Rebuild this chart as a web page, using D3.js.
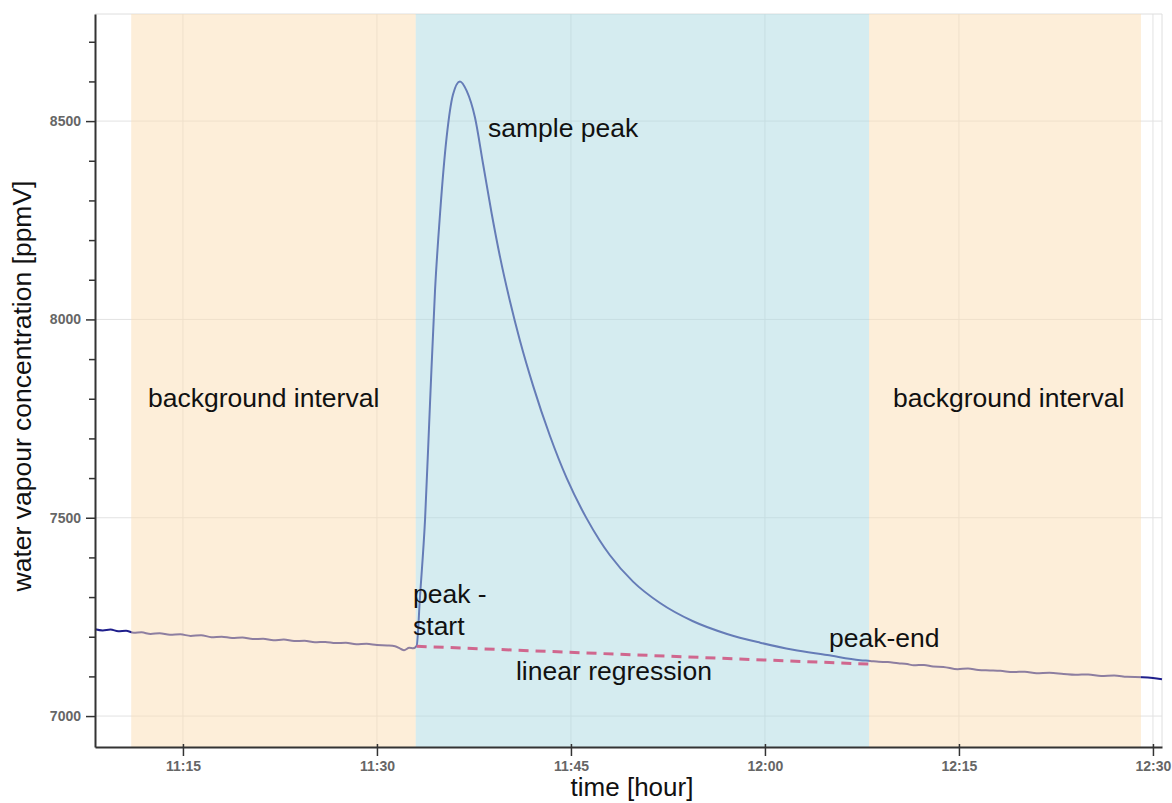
<!DOCTYPE html>
<html>
<head>
<meta charset="utf-8">
<script src="https://cdn.jsdelivr.net/npm/d3@7"></script>
<style>
  body { margin: 0; background: #fff; }
  svg { display: block; font-family: "Liberation Sans", Arial, sans-serif; }
</style>
</head>
<body>
<div id="chart"></div>
<script>
// minutes after 11:00 and water vapour concentration (ppmV)
const sampleMinutes = [
  8.2, 8.8, 9.4, 10.0, 10.6, 11.2, 11.8, 12.5, 13.2, 14.0, 14.8, 15.6, 16.4, 17.2, 18.0,
  18.8, 19.6, 20.4, 21.2, 22.0, 22.8, 23.6, 24.4, 25.2, 26.0, 26.8, 27.6, 28.4, 29.2, 30.0,
  30.8, 31.4, 31.8, 32.1, 32.5, 32.8, 33.07,
  33.33, 33.72, 34.10, 34.49, 34.88, 35.39, 35.88, 36.42, 36.94, 37.58, 38.20, 38.87, 39.52,
  40.29, 41.06, 42.07, 43.38, 44.68, 46.2, 47.2, 48.0, 49.8, 51.89, 54.44, 57.07, 59.63,
  62.18, 64.81, 67.36,
  68.13, 68.8, 69.5, 70.3, 71.0, 71.5, 72.3, 73.0, 73.8, 74.9, 75.7, 76.5, 77.4, 78.2,
  79.2, 80.1, 81.0, 82.0, 83.1, 84.0, 85.0, 86.0, 87.0, 88.0, 89.2, 90.0, 90.7
];
const sampleValues = [
  7219, 7216, 7218, 7214, 7215, 7210, 7211, 7207, 7209, 7205, 7206, 7202, 7204, 7199, 7200,
  7197, 7198, 7194, 7195, 7191, 7193, 7189, 7190, 7186, 7187, 7184, 7185, 7181, 7182, 7179,
  7178, 7176, 7170, 7166, 7172, 7171, 7177,
  7302, 7496, 7786, 8073, 8267, 8460, 8567, 8600, 8576, 8509, 8393, 8267, 8157,
  8045, 7946, 7833, 7706, 7599, 7499, 7444, 7406, 7339, 7285, 7239, 7207, 7185,
  7167, 7154, 7141,
  7139, 7137, 7136, 7133, 7131, 7128, 7129, 7125, 7124, 7118, 7120, 7116, 7115, 7114,
  7111, 7112, 7108, 7109, 7106, 7104, 7105, 7101, 7102, 7099, 7098, 7096, 7093
];

// regression line between peak start and peak end
const regressionMinutes = [33.07, 68.05];
const regressionValues = [7176, 7131];

// shaded intervals [start, end] in minutes after 11:00
const intervalNames = ["background", "peak", "background"];
const intervalStarts = [11.0, 33.0, 68.05];
const intervalEnds = [33.0, 68.05, 89.07];

const xTickLabels = ["11:15", "11:30", "11:45", "12:00", "12:15", "12:30"];
const yDomain = [6922, 8770];
const xDomainMinutes = [8.2, 90.7];

const annotations = [
  { text: "background interval", m: 12.30, v: 7779 },
  { text: "background interval", m: 69.90, v: 7779 },
  { text: "sample peak", m: 38.59, v: 8460 },
  { text: "peak -", m: 32.79, v: 7285 },
  { text: "start", m: 32.79, v: 7204 },
  { text: "linear regression", m: 40.75, v: 7091 },
  { text: "peak-end", m: 64.95, v: 7174 }
];

const width = 1172, height = 803;
const margin = { top: 14, right: 10, bottom: 56, left: 95 };

const t = m => new Date(2020, 0, 1, 11, 0, 0, Math.round(m * 60000));

const svg = d3.select('#chart').append('svg')
  .attr('width', width)
  .attr('height', height);

const x = d3.scaleTime()
  .domain(xDomainMinutes.map(t))
  .range([margin.left, width - margin.right]);

const y = d3.scaleLinear()
  .domain(yDomain)
  .range([height - margin.bottom, margin.top]);

const xTicks = xTickLabels.map(s => {
  const [h, mm] = s.split(':').map(Number);
  return t((h - 11) * 60 + mm);
});
const yMajor = d3.range(7000, 8501, 500);
const yMinor = d3.range(7000, 8701, 100);

// grid
svg.append('g').selectAll('line.v')
  .data(xTicks).join('line')
  .attr('x1', d => x(d)).attr('x2', d => x(d))
  .attr('y1', margin.top).attr('y2', height - margin.bottom)
  .attr('stroke', '#e2e2e2');
svg.append('g').selectAll('line.h')
  .data(yMajor).join('line')
  .attr('x1', margin.left).attr('x2', width - margin.right)
  .attr('y1', d => y(d)).attr('y2', d => y(d))
  .attr('stroke', '#e2e2e2');

// top/right frame
svg.append('path')
  .attr('d', `M${margin.left},${margin.top}H${width - margin.right}V${height - margin.bottom}`)
  .attr('fill', 'none')
  .attr('stroke', '#dedede');

// measured series
const data = sampleMinutes.map((m, i) => ({ date: t(m), value: sampleValues[i] }));
const line = d3.line()
  .x(d => x(d.date))
  .y(d => y(d.value))
  .curve(d3.curveMonotoneX);

svg.append('path')
  .datum(data)
  .attr('fill', 'none')
  .attr('stroke', '#1f1f8c')
  .attr('stroke-width', 2)
  .attr('d', line);

// translucent interval overlays
svg.append('g').selectAll('rect')
  .data(intervalNames.map((n, i) => ({ name: n, s: t(intervalStarts[i]), e: t(intervalEnds[i]) })))
  .join('rect')
  .attr('x', d => x(d.s))
  .attr('width', d => x(d.e) - x(d.s))
  .attr('y', margin.top)
  .attr('height', height - margin.bottom - margin.top)
  .attr('fill', d => d.name === 'peak' ? '#abd9e1' : '#fbddb3')
  .attr('fill-opacity', 0.5);

// regression (dashed)
svg.append('path')
  .datum(regressionMinutes.map((m, i) => ({ date: t(m), value: regressionValues[i] })))
  .attr('fill', 'none')
  .attr('stroke', '#d0678e')
  .attr('stroke-width', 3)
  .attr('stroke-dasharray', '10,7')
  .attr('d', d3.line().x(d => x(d.date)).y(d => y(d.value)));

// text annotations
svg.append('g').selectAll('text')
  .data(annotations).join('text')
  .attr('x', d => x(t(d.m)))
  .attr('y', d => y(d.v))
  .attr('font-size', 26.5)
  .attr('fill', '#111')
  .text(d => d.text);

// axes
const yAxis = svg.append('g')
  .attr('transform', `translate(${margin.left},0)`)
  .call(d3.axisLeft(y).tickValues(yMinor).tickSize(6).tickSizeOuter(0)
    .tickFormat(d => yMajor.includes(d) ? d : ''));
yAxis.selectAll('.tick line')
  .attr('x2', d => yMajor.includes(d) ? -9 : -6)
  .attr('stroke', '#333').attr('stroke-width', 1.5);
yAxis.select('.domain').attr('stroke', '#333').attr('stroke-width', 2);
yAxis.selectAll('.tick text')
  .attr('x', -14)
  .attr('font-size', 14).attr('font-weight', 'bold')
  .attr('font-family', '"Liberation Sans", Arial, sans-serif')
  .attr('fill', '#666');

const xAxis = svg.append('g')
  .attr('transform', `translate(0,${height - margin.bottom})`)
  .call(d3.axisBottom(x).tickValues(xTicks).tickSize(9).tickSizeOuter(0)
    .tickFormat(d3.timeFormat('%H:%M')));
xAxis.selectAll('.tick line')
  .attr('y1', -3)
  .attr('stroke', '#333').attr('stroke-width', 1.5);
xAxis.select('.domain').attr('stroke', '#333').attr('stroke-width', 2);
xAxis.selectAll('.tick text')
  .attr('y', 14)
  .attr('font-size', 14).attr('font-weight', 'bold')
  .attr('font-family', '"Liberation Sans", Arial, sans-serif')
  .attr('fill', '#666');

// axis titles
svg.append('text')
  .attr('x', 632)
  .attr('y', 796)
  .attr('text-anchor', 'middle')
  .attr('font-size', 26)
  .attr('fill', '#111')
  .text('time [hour]');

svg.append('text')
  .attr('transform', `translate(31,386) rotate(-90)`)
  .attr('text-anchor', 'middle')
  .attr('font-size', 26.5)
  .attr('fill', '#111')
  .text('water vapour concentration [ppmV]');
</script>
</body>
</html>
